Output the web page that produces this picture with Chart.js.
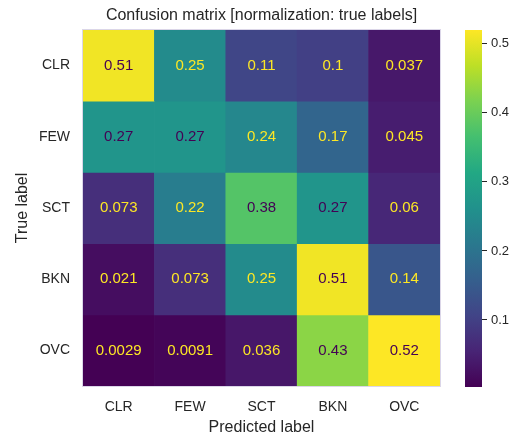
<!DOCTYPE html>
<html>
<head>
<meta charset="utf-8">
<script src="https://cdn.jsdelivr.net/npm/chart.js@4"></script>
<style>
  html, body { margin: 0; padding: 0; background: #ffffff; }
  #wrap { position: relative; width: 523px; height: 438px; overflow: hidden; }
  #matrix { position: absolute; left: 0; top: 0; }
  #cbar { position: absolute; left: 465px; top: 0; }
</style>
</head>
<body>
<div id="wrap">
  <canvas id="matrix" width="465" height="438"></canvas>
  <canvas id="cbar" width="58" height="438"></canvas>
</div>
<script>
// Confusion matrix, rows = true label, columns = predicted label (row-normalised)
const trueLabels = ['CLR', 'FEW', 'SCT', 'BKN', 'OVC'];
const predictedLabels = ['CLR', 'FEW', 'SCT', 'BKN', 'OVC'];
const rowCLR = [0.51, 0.25, 0.11, 0.1, 0.037];
const rowFEW = [0.27, 0.27, 0.24, 0.17, 0.045];
const rowSCT = [0.073, 0.22, 0.38, 0.27, 0.06];
const rowBKN = [0.021, 0.073, 0.25, 0.51, 0.14];
const rowOVC = [0.0029, 0.0091, 0.036, 0.43, 0.52];
const matrixRows = [rowCLR, rowFEW, rowSCT, rowBKN, rowOVC];
const colorbarTicks = [0.1, 0.2, 0.3, 0.4, 0.5];
const titleText = 'Confusion matrix [normalization: true labels]';

const allValues = matrixRows.flat();
const vmin = Math.min(...allValues);
const vmax = Math.max(...allValues);

// viridis colormap, sampled every 10%
const viridisStops = ['#440154', '#482475', '#414487', '#355f8d', '#2a788e',
  '#21918c', '#22a884', '#44bf70', '#7ad151', '#bddf26', '#fde725'];
function hexToRgb(h) {
  return [parseInt(h.slice(1, 3), 16), parseInt(h.slice(3, 5), 16), parseInt(h.slice(5, 7), 16)];
}
function viridis(t) {
  t = Math.max(0, Math.min(1, t));
  const pos = t * (viridisStops.length - 1);
  const i = Math.min(Math.floor(pos), viridisStops.length - 2);
  const f = pos - i;
  const a = hexToRgb(viridisStops[i]), b = hexToRgb(viridisStops[i + 1]);
  const c = a.map((v, k) => Math.round(v + (b[k] - v) * f));
  return `rgb(${c[0]},${c[1]},${c[2]})`;
}
const norm = v => (v - vmin) / (vmax - vmin);

const textColor = '#262626';
const fontFamily = '"Liberation Sans", Arial, sans-serif';
Chart.defaults.font.family = fontFamily;
Chart.defaults.color = textColor;

// title centred over the matrix, plus a thin frame round it
const framePlugin = {
  id: 'cmFrame',
  afterDraw(chart) {
    const { ctx, chartArea } = chart;
    ctx.save();
    ctx.font = `16px ${fontFamily}`;
    ctx.fillStyle = textColor;
    ctx.textAlign = 'center';
    ctx.textBaseline = 'middle';
    ctx.fillText(titleText, (chartArea.left + chartArea.right) / 2, 16);
    ctx.strokeStyle = 'rgba(215,210,230,0.9)';
    ctx.lineWidth = 1;
    ctx.strokeRect(chartArea.left - 0.5, chartArea.top - 0.5,
      chartArea.right - chartArea.left + 1, chartArea.bottom - chartArea.top + 1);
    ctx.restore();
  }
};

// value printed in every cell; dark text on the bright half of the colormap
const cellTextPlugin = {
  id: 'cmCellText',
  afterDatasetsDraw(chart) {
    const { ctx, scales } = chart;
    const mid = (vmin + vmax) / 2;
    ctx.save();
    ctx.font = `15px ${fontFamily}`;
    ctx.textAlign = 'center';
    ctx.textBaseline = 'middle';
    matrixRows.forEach((row, r) => {
      row.forEach((v, c) => {
        ctx.fillStyle = v >= mid ? viridisStops[0] : viridisStops[viridisStops.length - 1];
        ctx.fillText(String(v), scales.x.getPixelForValue(c), scales.y.getPixelForValue(r));
      });
    });
    ctx.restore();
  }
};

new Chart(document.getElementById('matrix'), {
  type: 'bar',
  data: {
    labels: predictedLabels,
    datasets: matrixRows.map((row, r) => ({
      label: trueLabels[r],
      data: row.map(() => [r - 0.5, r + 0.5]),
      backgroundColor: row.map(v => viridis(norm(v))),
      borderWidth: 0,
      borderSkipped: false,
      grouped: false,
      barPercentage: 1,
      categoryPercentage: 1
    }))
  },
  options: {
    responsive: false,
    animation: false,
    devicePixelRatio: 1,
    layout: { padding: { top: 30, right: 25, left: 0, bottom: 0 } },
    plugins: { legend: { display: false }, tooltip: { enabled: false }, title: { display: false } },
    scales: {
      x: {
        type: 'category',
        grid: { display: false, drawTicks: false },
        border: { display: false },
        ticks: { font: { size: 14 }, color: textColor, padding: 13, maxRotation: 0 },
        title: { display: true, text: 'Predicted label', font: { size: 16 }, color: textColor, padding: { top: 4, bottom: 1 } },
        afterFit(s) { s.height = 52; }
      },
      y: {
        type: 'linear',
        min: -0.5,
        max: 4.5,
        reverse: true,
        grid: { display: false, drawTicks: false },
        border: { display: false },
        afterBuildTicks(s) { s.ticks = trueLabels.map((_, i) => ({ value: i })); },
        ticks: { font: { size: 14 }, color: textColor, padding: 13, callback: v => trueLabels[v] },
        title: { display: true, text: 'True label', font: { size: 16 }, color: textColor, padding: 13 },
        afterFit(s) { s.width = 83; }
      }
    }
  },
  plugins: [cellTextPlugin, framePlugin]
});

// colour bar: one floating bar spanning the value range, filled with the colormap
new Chart(document.getElementById('cbar'), {
  type: 'bar',
  data: {
    labels: [''],
    datasets: [{
      data: [[vmin, vmax]],
      backgroundColor(ctx) {
        const chart = ctx.chart;
        if (!chart.chartArea) return viridisStops[5];
        const y = chart.scales.y;
        const g = chart.ctx.createLinearGradient(0, y.getPixelForValue(vmin), 0, y.getPixelForValue(vmax));
        viridisStops.forEach((c, i) => g.addColorStop(i / (viridisStops.length - 1), c));
        return g;
      },
      borderWidth: 0,
      borderSkipped: false,
      barPercentage: 1,
      categoryPercentage: 1
    }]
  },
  options: {
    responsive: false,
    animation: false,
    devicePixelRatio: 1,
    layout: { padding: { top: 30, right: 0, left: 0, bottom: 51 } },
    plugins: { legend: { display: false }, tooltip: { enabled: false } },
    scales: {
      x: { display: false },
      y: {
        type: 'linear',
        position: 'right',
        min: vmin,
        max: vmax,
        afterBuildTicks(s) { s.ticks = colorbarTicks.map(v => ({ value: v })); },
        grid: { display: true, drawOnChartArea: false, drawTicks: true, tickLength: 5, tickWidth: 1, tickColor: textColor },
        border: { display: false },
        ticks: { font: { size: 13 }, color: textColor, padding: 4, callback: v => v.toFixed(1) },
        afterFit(s) { s.width = 41; }
      }
    }
  }
});
</script>
</body>
</html>
